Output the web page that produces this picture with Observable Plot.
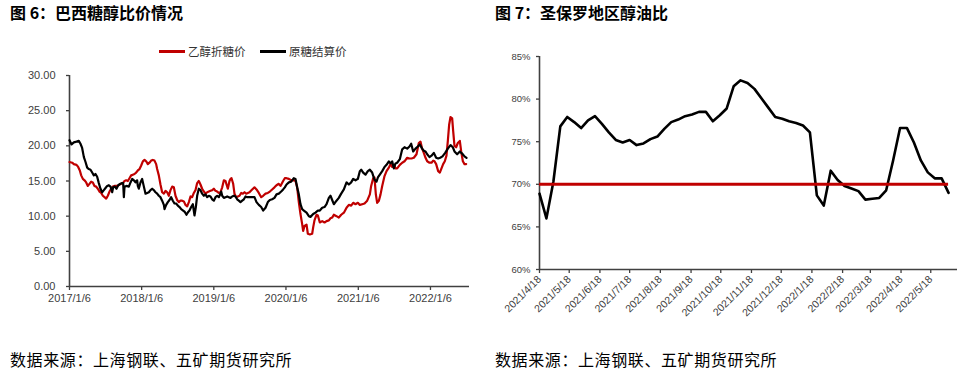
<!DOCTYPE html>
<html><head><meta charset="utf-8">
<script src="https://cdn.jsdelivr.net/npm/d3@7"></script>
<script src="https://cdn.jsdelivr.net/npm/@observablehq/plot@0.6"></script>
<style>
body{margin:0;width:971px;height:380px;position:relative;background:#fff;overflow:hidden;font-family:"Noto Sans CJK SC","Noto Sans",sans-serif;}
.title{position:absolute;top:4px;font-size:16px;line-height:16px;font-weight:bold;color:#000;white-space:nowrap;}
.cap{position:absolute;top:351px;font-size:16px;line-height:16px;letter-spacing:0.6px;color:#000;white-space:nowrap;}
.chart{position:absolute;}
.leg{position:absolute;top:44px;font-size:11.5px;line-height:14px;color:#333;white-space:nowrap;}
.sw{position:absolute;height:3px;top:50px;}
</style>
</head><body>
<div class="title" style="left:10px">图 6：巴西糖醇比价情况</div>
<div class="title" style="left:495px">图 7：圣保罗地区醇油比</div>
<div id="legend"></div>
<div id="c1" class="chart" style="left:0;top:40px"></div>
<div id="c2" class="chart" style="left:480px;top:40px"></div>
<div class="cap" style="left:10px">数据来源：上海钢联、五矿期货研究所</div>
<div class="cap" style="left:495px">数据来源：上海钢联、五矿期货研究所</div>
<script>
// ---------- Chart 6: Brazil sugar / ethanol prices ----------
const seriesNames = ["乙醇折糖价", "原糖结算价"];
const seriesColors = ["#c00000", "#000000"];
const leftStart = "2017/1/6";      // t = 0 (years since this date)
const leftEndYears = 5.54;
const leftYTicks = [0, 5, 10, 15, 20, 25, 30];
const leftXLabels = ["2017/1/6", "2018/1/6", "2019/1/6", "2020/1/6", "2021/1/6", "2022/1/6"];

// [years since 2017/1/6, price]
const ethanolSugar = [[0,17.7],[.037,17.6],[.060,17.4],[.097,17.3],[.120,17.0],[.143,16.5],[.162,15.8],[.185,15.3],[.208,15.1],[.231,14.8],[.254,14.3],[.277,14.6],[.300,14.9],[.323,14.8],[.346,14.3],[.369,14.2],[.392,13.9],[.416,13.5],[.439,13.3],[.462,12.9],[.485,12.7],[.508,12.5],[.531,12.9],[.554,13.5],[.577,13.9],[.600,14.2],[.623,14.3],[.646,14.3],[.669,14.3],[.693,14.5],[.716,14.6],[.739,14.7],[.762,15.0],[.785,15.1],[.808,15.0],[.831,15.4],[.854,15.8],[.877,15.9],[.900,16.0],[.923,16.2],[.946,16.5],[.970,16.7],[.993,17.2],[1.016,17.8],[1.039,18.0],[1.062,17.8],[1.085,17.4],[1.108,17.6],[1.131,17.9],[1.154,18.0],[1.177,17.9],[1.200,17.4],[1.214,16.7],[1.237,15.8],[1.260,14.5],[1.283,13.4],[1.307,13.2],[1.330,13.6],[1.353,13.4],[1.376,12.9],[1.399,13.7],[1.422,14.2],[1.445,14.1],[1.468,12.9],[1.491,12.3],[1.514,12.0],[1.537,12.2],[1.560,12.2],[1.584,12.1],[1.607,11.6],[1.630,11.4],[1.653,12.0],[1.676,12.8],[1.699,12.7],[1.722,13.3],[1.745,13.7],[1.768,14.7],[1.791,15.0],[1.814,14.5],[1.837,13.9],[1.861,13.5],[1.884,13.2],[1.907,13.4],[1.930,13.5],[1.953,13.6],[1.976,13.7],[1.999,13.9],[2.022,13.6],[2.045,13.5],[2.068,13.3],[2.091,13.4],[2.115,14.1],[2.138,15.1],[2.161,15.0],[2.175,14.5],[2.193,13.9],[2.216,15.0],[2.230,15.3],[2.244,15.4],[2.267,14.6],[2.285,13.2],[2.308,12.7],[2.332,12.8],[2.355,12.9],[2.378,13.3],[2.401,13.2],[2.424,13.4],[2.447,13.2],[2.470,13.3],[2.493,13.4],
[2.530,13.8],[2.562,14.1],[2.590,13.8],[2.622,13.3],[2.655,12.7],[2.682,12.9],[2.715,13.2],[2.747,13.3],[2.775,13.5],[2.807,13.8],[2.839,14.1],[2.867,14.4],[2.899,14.6],[2.922,14.3],[2.959,15.0],[2.982,15.4],[3.006,15.4],[3.038,15.3],[3.070,15.1],[3.107,15.1],[3.130,15.0],[3.153,14.1],[3.176,12.0],[3.199,10.3],[3.222,8.9],[3.236,7.9],[3.255,8.6],[3.283,8.8],[3.301,7.5],[3.329,7.4],[3.361,7.5],[3.375,8.4],[3.393,9.4],[3.421,10.2],[3.440,10.1],[3.467,9.1],[3.500,9.3],[3.532,9.1],[3.560,9.3],[3.592,9.4],[3.615,9.7],[3.638,9.8],[3.661,10.2],[3.698,10.0],[3.730,9.8],[3.763,10.2],[3.800,10.5],[3.837,11.2],[3.869,11.6],[3.901,11.5],[3.929,11.9],[3.961,11.7],[3.994,11.9],[4.021,11.6],[4.054,11.7],[4.086,11.8],[4.123,12.2],[4.160,13.1],[4.178,14.3],[4.206,15.4],[4.224,15.5],[4.243,13.1],[4.261,11.9],[4.285,12.2],[4.308,13.1],[4.331,14.3],[4.363,15.7],[4.391,16.4],[4.423,16.9],[4.446,17.4],[4.469,17.0],[4.492,17.3],[4.515,16.8],[4.538,16.8],[4.575,17.3],[4.608,17.6],[4.640,17.8],[4.677,18.3],[4.709,18.2],[4.737,18.2],[4.769,18.3],[4.806,18.8],[4.838,20.4],[4.861,20.6],[4.884,19.6],[4.907,19.0],[4.931,18.3],[4.954,17.8],[4.986,17.6],[5.014,17.6],[5.037,17.9],[5.055,17.8],[5.078,17.4],[5.106,16.4],[5.129,16.2],[5.148,16.7],[5.175,17.4],[5.198,17.8],[5.221,18.6],[5.240,20.7],[5.258,23.0],[5.277,24.1],[5.300,23.9],[5.314,22.1],[5.332,20.0],[5.355,19.8],[5.378,20.4],[5.406,20.7],[5.425,19.2],[5.448,17.8],[5.471,17.4],[5.494,17.4]];

const rawSugar = [[0,20.8],[.028,20.2],[.060,20.5],[.097,20.6],[.129,20.7],[.152,20.3],[.175,19.7],[.199,18.4],[.222,17.7],[.245,16.9],[.268,16.7],[.291,16.6],[.314,16.2],[.337,15.8],[.360,16.0],[.383,15.6],[.406,14.7],[.429,13.9],[.452,13.4],[.476,13.7],[.499,14.0],[.522,14.3],[.545,14.4],[.568,14.2],[.591,13.4],[.605,14.1],[.628,14.2],[.651,13.9],[.674,14.4],[.706,14.6],[.729,14.7],[.743,14.7],[.753,12.7],[.762,14.2],[.789,14.3],[.822,14.2],[.845,14.8],[.868,15.3],[.891,15.1],[.914,14.8],[.937,15.1],[.946,14.3],[.960,13.9],[.983,14.8],[1.006,15.3],[1.030,14.2],[1.053,13.2],[1.076,13.3],[1.099,13.4],[1.122,13.7],[1.145,13.9],[1.168,13.7],[1.191,13.4],[1.214,13.2],[1.237,12.9],[1.260,12.7],[1.283,12.2],[1.307,11.6],[1.316,11.0],[1.339,11.6],[1.362,12.0],[1.385,12.3],[1.408,12.7],[1.431,12.2],[1.454,11.8],[1.477,11.8],[1.500,11.5],[1.524,11.3],[1.547,11.0],[1.574,10.8],[1.597,10.6],[1.620,10.2],[1.644,10.6],[1.662,10.8],[1.685,11.3],[1.708,11.7],[1.731,10.1],[1.750,11.3],[1.768,12.9],[1.791,13.9],[1.814,13.7],[1.837,13.2],[1.861,12.9],[1.884,13.1],[1.907,12.7],[1.930,12.9],[1.953,12.8],[1.976,12.4],[1.999,12.2],[2.022,12.7],[2.045,12.9],[2.068,12.7],[2.091,13.2],[2.101,13.5],[2.115,12.9],[2.138,12.6],[2.161,12.7],[2.184,12.8],[2.207,12.7],[2.230,12.6],[2.253,12.8],[2.276,12.9],[2.299,12.8],[2.322,12.4],[2.345,12.2],[2.368,12.0],[2.392,12.2],[2.415,12.4],[2.438,12.8],[2.461,12.7],[2.484,12.7],
[2.530,12.7],[2.562,12.7],[2.590,12.0],[2.622,11.6],[2.655,11.3],[2.682,10.8],[2.715,11.2],[2.747,12.0],[2.775,12.3],[2.807,12.4],[2.839,12.6],[2.867,13.1],[2.899,13.2],[2.932,13.5],[2.959,13.8],[2.982,14.1],[3.006,14.5],[3.038,14.8],[3.070,14.9],[3.107,15.4],[3.130,15.3],[3.153,14.1],[3.176,13.1],[3.199,11.7],[3.222,11.0],[3.246,10.8],[3.283,10.5],[3.315,10.0],[3.338,9.9],[3.375,10.3],[3.407,10.5],[3.440,10.8],[3.467,10.8],[3.500,11.2],[3.532,11.3],[3.560,11.7],[3.592,12.6],[3.615,12.9],[3.638,12.3],[3.661,11.7],[3.698,12.2],[3.730,12.6],[3.763,13.2],[3.800,13.8],[3.837,14.8],[3.869,14.5],[3.901,14.8],[3.929,15.3],[3.961,15.1],[3.994,15.3],[4.021,16.4],[4.040,16.6],[4.067,16.2],[4.100,15.9],[4.132,16.4],[4.160,16.6],[4.192,16.2],[4.224,15.2],[4.252,14.9],[4.271,15.5],[4.298,15.9],[4.331,16.4],[4.363,17.0],[4.391,17.3],[4.423,17.8],[4.446,17.5],[4.469,17.8],[4.492,16.8],[4.515,17.5],[4.538,17.6],[4.575,18.1],[4.608,19.5],[4.640,19.8],[4.677,19.6],[4.709,19.9],[4.732,20.3],[4.760,19.2],[4.792,19.6],[4.824,19.9],[4.852,20.2],[4.884,19.6],[4.907,19.3],[4.931,19.2],[4.954,18.8],[4.986,18.4],[5.014,18.6],[5.046,19.0],[5.078,18.3],[5.106,18.2],[5.134,18.3],[5.166,18.5],[5.203,19.0],[5.240,19.6],[5.277,20.1],[5.309,19.8],[5.332,19.2],[5.369,18.8],[5.406,19.2],[5.438,18.9],[5.471,18.5],[5.499,18.3]];

// ---------- Chart 7: São Paulo ethanol/gasoline ratio (weekly, %) ----------
const ratioStart = "2021/4/18";
const ratioEnd = "2022/6/14";
const ratioValues = [68.9,66.0,70.3,76.8,77.9,77.3,76.6,77.5,78.0,77.1,76.1,75.2,74.9,75.2,74.6,74.8,75.3,75.6,76.5,77.3,77.6,78.0,78.2,78.5,78.5,77.4,78.1,78.9,81.5,82.2,81.9,81.2,80.1,79.0,77.9,77.7,77.4,77.2,76.9,76.1,68.7,67.5,71.6,70.5,69.8,69.5,69.2,68.2,68.3,68.4,69.3,72.8,76.6,76.6,74.9,72.8,71.4,70.7,70.7,69.0];
const ratioThreshold = 70;
const rightYTicks = [60, 65, 70, 75, 80, 85];
const rightXLabels = ["2021/4/18","2021/5/18","2021/6/18","2021/7/18","2021/8/18","2021/9/18","2021/10/18","2021/11/18","2021/12/18","2022/1/18","2022/2/18","2022/3/18","2022/4/18","2022/5/18"];

// ---------- helpers ----------
const parseYMD = s => { const [y, m, d] = s.split("/").map(Number); return new Date(Date.UTC(y, m - 1, d)); };
const DAY = 86400000;
const t0 = parseYMD(leftStart);
const tDate = t => new Date(+t0 + t * 365.25 * DAY);
const toRows = (arr, name) => arr.map(([t, v]) => ({date: tDate(t), value: v, name}));

const axisColor = "#404040";
const numFont = '"Liberation Sans", Arial, sans-serif';

// legend
const legend = document.getElementById("legend");
const legPos = [{sw: 158.5, tx: 188}, {sw: 259.5, tx: 289}];
seriesNames.forEach((n, i) => {
  const s = document.createElement("div");
  s.className = "sw"; s.style.left = legPos[i].sw + "px"; s.style.width = "26px"; s.style.background = seriesColors[i];
  legend.appendChild(s);
  const t = document.createElement("div");
  t.className = "leg"; t.style.left = legPos[i].tx + "px"; t.textContent = n;
  legend.appendChild(t);
});

// left chart
const leftXTicks = leftXLabels.map(parseYMD);
const leftLabelMap = new Map(leftXTicks.map((d, i) => [+d, leftXLabels[i]]));
const leftDomain = [t0, tDate(leftEndYears)];
const chart1 = Plot.plot({
  width: 480, height: 280,
  marginLeft: 69, marginRight: 11, marginTop: 35, marginBottom: 34,
  style: {fontFamily: numFont, fontSize: "11px", color: axisColor, background: "transparent"},
  x: {type: "utc", domain: leftDomain},
  y: {domain: [leftYTicks[0], leftYTicks[leftYTicks.length - 1]]},
  marks: [
    Plot.axisY({ticks: leftYTicks, tickFormat: d => d.toFixed(2), tickSize: 3, tickPadding: 11, label: null, stroke: axisColor, strokeWidth: 1.3}),
    Plot.axisX({ticks: leftXTicks, tickFormat: d => leftLabelMap.get(+d), tickSize: 4, tickPadding: 4, label: null, stroke: axisColor, strokeWidth: 1.3}),
    Plot.ruleX([leftDomain[0]], {stroke: axisColor, strokeWidth: 1.6}),
    Plot.ruleY([leftYTicks[0]], {stroke: axisColor, strokeWidth: 1.6}),
    Plot.line(toRows(ethanolSugar, seriesNames[0]), {x: "date", y: "value", stroke: seriesColors[0], strokeWidth: 2.2}),
    Plot.line(toRows(rawSugar, seriesNames[1]), {x: "date", y: "value", stroke: seriesColors[1], strokeWidth: 2.2})
  ]
});
document.getElementById("c1").appendChild(chart1);

// right chart
const rStart = parseYMD(ratioStart);
const ratioRows = ratioValues.map((v, i) => ({date: new Date(+rStart + i * 7 * DAY), value: v}));
const rightXTicks = rightXLabels.map(parseYMD);
const rightLabelMap = new Map(rightXTicks.map((d, i) => [+d, rightXLabels[i]]));
const rightDomain = [rStart, parseYMD(ratioEnd)];
const chart2 = Plot.plot({
  width: 491, height: 300,
  marginLeft: 59, marginRight: 14, marginTop: 16, marginBottom: 71,
  style: {fontFamily: numFont, fontSize: "10.5px", color: axisColor, background: "transparent"},
  x: {type: "utc", domain: rightDomain},
  y: {domain: [rightYTicks[0], rightYTicks[rightYTicks.length - 1]]},
  marks: [
    Plot.axisY({ticks: rightYTicks, tickFormat: d => d + "%", tickSize: 3, tickPadding: 6, label: null, fontSize: 9.5, stroke: axisColor, strokeWidth: 1.3}),
    Plot.axisX({ticks: rightXTicks, tickFormat: d => rightLabelMap.get(+d), tickSize: 4, tickPadding: 4, tickRotate: -45, label: null, stroke: axisColor, strokeWidth: 1.3}),
    Plot.ruleX([rightDomain[0]], {stroke: axisColor, strokeWidth: 1.6}),
    Plot.ruleY([rightYTicks[0]], {stroke: axisColor, strokeWidth: 1.6}),
    Plot.line(ratioRows, {x: "date", y: "value", stroke: "#000", strokeWidth: 2.6}),
    Plot.ruleY([ratioThreshold], {x1: ratioRows[0].date, x2: ratioRows[ratioRows.length - 1].date, stroke: "#c00000", strokeWidth: 3})
  ]
});
document.getElementById("c2").appendChild(chart2);
</script>
</body></html>
